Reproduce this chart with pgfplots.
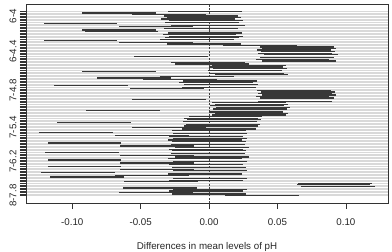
\documentclass[border=0pt]{standalone}
\usepackage{fontspec}
\setmainfont{Liberation Sans}
\usepackage{pgfplots}
\usepackage{pgfplotstable}
\pgfplotsset{compat=1.18}

\pgfplotstableread{
y lwr diff upr
120 -0.030 -0.003 0.024
119 -0.093 -0.066 -0.039
118 -0.056 -0.029 -0.002
117 -0.033 -0.006 0.021
116 -0.031 -0.004 0.023
115 -0.035 -0.008 0.019
114 -0.029 -0.002 0.025
113 -0.032 -0.005 0.022
112 -0.121 -0.094 -0.067
111 -0.028 -0.001 0.026
110 -0.066 -0.039 -0.012
109 -0.033 -0.006 0.021
108 -0.093 -0.066 -0.039
107 -0.091 -0.064 -0.037
106 -0.030 -0.003 0.024
105 -0.034 -0.007 0.020
104 -0.029 -0.002 0.025
103 -0.032 -0.005 0.022
102 -0.036 -0.009 0.018
101 -0.121 -0.094 -0.067
100 -0.066 -0.039 -0.012
99 -0.031 -0.004 0.023
98 0.010 0.037 0.064
97 0.037 0.064 0.091
96 0.039 0.066 0.093
95 0.035 0.062 0.089
94 0.038 0.065 0.092
93 0.036 0.063 0.090
92 0.040 0.067 0.094
91 -0.055 -0.028 -0.001
90 0.037 0.064 0.091
89 0.034 0.061 0.088
88 0.039 0.066 0.093
87 -0.028 -0.001 0.026
86 -0.025 0.002 0.029
85 0.002 0.029 0.056
84 0.000 0.027 0.054
83 0.003 0.030 0.057
82 -0.001 0.026 0.053
81 -0.093 -0.066 -0.039
80 0.001 0.028 0.055
79 0.004 0.031 0.058
78 -0.036 -0.009 0.018
77 -0.082 -0.055 -0.028
76 -0.048 -0.021 0.006
75 -0.019 0.008 0.035
74 -0.022 0.005 0.032
73 -0.018 0.009 0.036
72 -0.113 -0.086 -0.059
71 -0.020 0.007 0.034
70 -0.058 -0.031 -0.004
69 0.035 0.062 0.089
68 0.038 0.065 0.092
67 0.036 0.063 0.090
66 0.039 0.066 0.093
65 0.034 0.061 0.088
64 0.037 0.064 0.091
63 -0.056 -0.029 -0.002
62 0.036 0.063 0.090
61 0.002 0.029 0.056
60 0.004 0.031 0.058
59 0.001 0.028 0.055
58 0.005 0.032 0.059
57 0.003 0.030 0.057
56 -0.090 -0.063 -0.036
55 0.000 0.027 0.054
54 0.004 0.031 0.058
53 0.002 0.029 0.056
52 -0.015 0.012 0.039
51 -0.018 0.009 0.036
50 -0.016 0.011 0.038
49 -0.019 0.008 0.035
48 -0.111 -0.084 -0.057
47 -0.017 0.010 0.037
46 -0.018 0.009 0.036
45 -0.056 -0.029 -0.002
44 -0.020 0.007 0.034
43 -0.027 0.000 0.027
42 -0.124 -0.097 -0.070
41 -0.026 0.001 0.028
40 -0.069 -0.042 -0.015
39 -0.029 -0.002 0.025
38 -0.026 0.001 0.028
37 -0.030 -0.003 0.024
36 -0.027 0.000 0.027
35 -0.118 -0.091 -0.064
34 -0.028 -0.001 0.026
33 -0.065 -0.038 -0.011
32 -0.025 0.002 0.029
31 -0.029 -0.002 0.025
30 -0.027 0.000 0.027
29 -0.120 -0.093 -0.066
28 -0.028 -0.001 0.026
27 -0.065 -0.038 -0.011
26 -0.025 0.002 0.029
25 -0.030 -0.003 0.024
24 -0.118 -0.091 -0.064
23 -0.026 0.001 0.028
22 -0.065 -0.038 -0.011
21 -0.029 -0.002 0.025
20 -0.118 -0.091 -0.064
19 -0.027 0.000 0.027
18 -0.065 -0.038 -0.011
17 -0.026 0.001 0.028
16 -0.123 -0.096 -0.069
15 -0.030 -0.003 0.024
14 -0.069 -0.042 -0.015
13 -0.116 -0.089 -0.062
12 -0.026 0.001 0.028
11 -0.029 -0.002 0.025
10 -0.062 -0.035 -0.008
9 0.065 0.092 0.119
8 0.064 0.091 0.118
7 0.067 0.094 0.121
6 -0.063 -0.036 -0.009
5 -0.026 0.001 0.028
4 -0.029 -0.002 0.025
3 -0.066 -0.039 -0.012
2 -0.027 0.000 0.027
1 0.012 0.039 0.066
}\tukey

\begin{document}
\begin{tikzpicture}
\useasboundingbox (-26bp,-49bp) rectangle (366bp,203bp);
\begin{axis}[
 at={(0,0)}, anchor=south west,
 scale only axis, width=362bp, height=199bp,
 xmin=-0.1338, xmax=0.1308, ymin=-3.76, ymax=124.76,
 axis line style={black!80, line width=0.6bp},
 tick align=outside, xtick pos=bottom, ytick pos=left,
 major tick length=6bp,
 tick style={black!80, line width=0.5bp},
 xtick={-0.1,-0.05,0,0.05,0.1},
 xticklabels={-0.10,-0.05,0.00,0.05,0.10},
 ytick={1,...,120},
 yticklabels={},
 ymajorgrids,
 major grid style={black!15, line width=0.5bp},
 extra y ticks={117,94,69,45,23,1},
 extra y tick labels={6-4,6-4.4,7-4.8,7-5.4,7-6.2,8-7.8},
 extra y tick style={grid=none},
 yticklabel style={rotate=90, anchor=south},
 ticklabel style={font=\fontsize{9.8}{11}\selectfont, text=black!85},
 xticklabel style={yshift=-6bp},
 xlabel={Differences in mean levels of pH},
 xlabel style={at={(axis description cs:0.5,0)}, anchor=center, yshift=-44bp, font=\fontsize{9.8}{11}\selectfont, text=black!85},
]
\draw[black!75, line width=0.45bp, dash pattern=on 2bp off 1.5bp] (axis cs:0,-3.76) -- (axis cs:0,124.76);
\addplot[draw=none, mark=none, error bars/.cd, x dir=both, x explicit, error mark=none, error bar style={draw=black!78, line width=1.25bp}]
 table[x=diff, y=y, x error plus expr=\thisrow{upr}-\thisrow{diff}, x error minus expr=\thisrow{diff}-\thisrow{lwr}] {\tukey};
\end{axis}
\end{tikzpicture}
\end{document}
